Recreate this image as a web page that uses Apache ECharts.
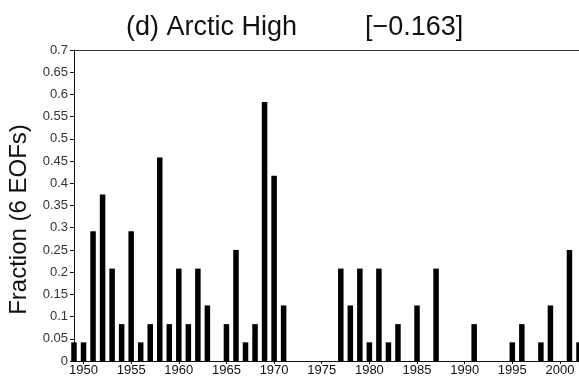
<!DOCTYPE html>
<html>
<head>
<meta charset="utf-8">
<script src="https://cdn.jsdelivr.net/npm/echarts@6/dist/echarts.min.js"></script>
<style>
  html, body { margin: 0; padding: 0; background: #fff; }
  #chart { width: 579px; height: 381px; }
</style>
</head>
<body>
<div id="chart"></div>
<script>
// years shown on the x axis, one bar per year
const years = [
  1949, 1950, 1951, 1952, 1953, 1954, 1955, 1956, 1957, 1958, 1959,
  1960, 1961, 1962, 1963, 1964, 1965, 1966, 1967, 1968, 1969,
  1970, 1971, 1972, 1973, 1974, 1975, 1976, 1977, 1978, 1979,
  1980, 1981, 1982, 1983, 1984, 1985, 1986, 1987, 1988, 1989,
  1990, 1991, 1992, 1993, 1994, 1995, 1996, 1997, 1998, 1999,
  2000, 2001, 2002,
];

// fraction of the 6 EOFs
const fraction = [
  0.042, 0.042, 0.292, 0.375, 0.208, 0.083, 0.292, 0.042, 0.083, 0.458, 0.083,
  0.208, 0.083, 0.208, 0.125, 0, 0.083, 0.25, 0.042, 0.083, 0.583,
  0.417, 0.125, 0, 0, 0, 0, 0, 0.208, 0.125, 0.208,
  0.042, 0.208, 0.042, 0.083, 0, 0.125, 0, 0.208, 0, 0,
  0, 0.083, 0, 0, 0, 0.042, 0.083, 0, 0.042, 0.125,
  0, 0.25, 0.042,
];

const xTickYears = [1950, 1955, 1960, 1965, 1970, 1975, 1980, 1985, 1990, 1995, 2000];

const titleMain = "(d) Arctic High";
const titleCorr = "[\u22120.163]";
const yName = "Fraction (6 EOFs)";

const FONT = "Liberation Sans";
const INK = "#111";

const chart = echarts.init(document.getElementById("chart"));

chart.setOption({
  animation: false,
  backgroundColor: "#fff",
  title: [
    {
      text: titleMain,
      left: 121,
      top: 9,
      textStyle: { fontFamily: FONT, fontSize: 27, fontWeight: "normal", color: INK },
    },
    {
      text: titleCorr,
      left: 360,
      top: 9,
      textStyle: { fontFamily: FONT, fontSize: 27, fontWeight: "normal", color: INK },
    },
  ],
  grid: { left: 74, right: 0, top: 50, bottom: 20, outerBoundsMode: "none" },
  xAxis: [
    {
      type: "value",
      min: 1949,
      max: 2002,
      axisLine: { lineStyle: { color: INK, width: 1 } },
      axisTick: { customValues: xTickYears, length: 3, lineStyle: { color: INK } },
      axisLabel: {
        customValues: xTickYears,
        fontFamily: FONT,
        fontSize: 13,
        color: INK,
        margin: 3,
        formatter: (v) => String(v),
      },
      splitLine: { show: false },
    },
    {
      type: "value",
      position: "top",
      min: 1949,
      max: 2002,
      axisLine: { show: true, lineStyle: { color: "#333", width: 1 } },
      axisTick: { show: false },
      axisLabel: { show: false },
      splitLine: { show: false },
    },
  ],
  yAxis: {
    type: "value",
    min: 0,
    max: 0.7,
    interval: 0.05,
    name: yName,
    nameLocation: "middle",
    nameGap: 41,
    nameTextStyle: { fontFamily: FONT, fontSize: 24, color: INK, padding: [0, 28, 0, 0] },
    axisLine: { show: true, lineStyle: { color: INK, width: 1 } },
    axisTick: { show: true, length: 4, lineStyle: { color: INK } },
    axisLabel: {
      fontFamily: FONT,
      fontSize: 13,
      color: "#333",
      margin: 6,
      formatter: (v) => String(+v.toFixed(2)),
    },
    splitLine: { show: false },
  },
  series: [
    {
      type: "bar",
      xAxisIndex: 0,
      barWidth: 5.5,
      itemStyle: { color: "#000" },
      data: years.map((y, i) => [y, fraction[i]]),
    },
  ],
});
</script>
</body>
</html>
